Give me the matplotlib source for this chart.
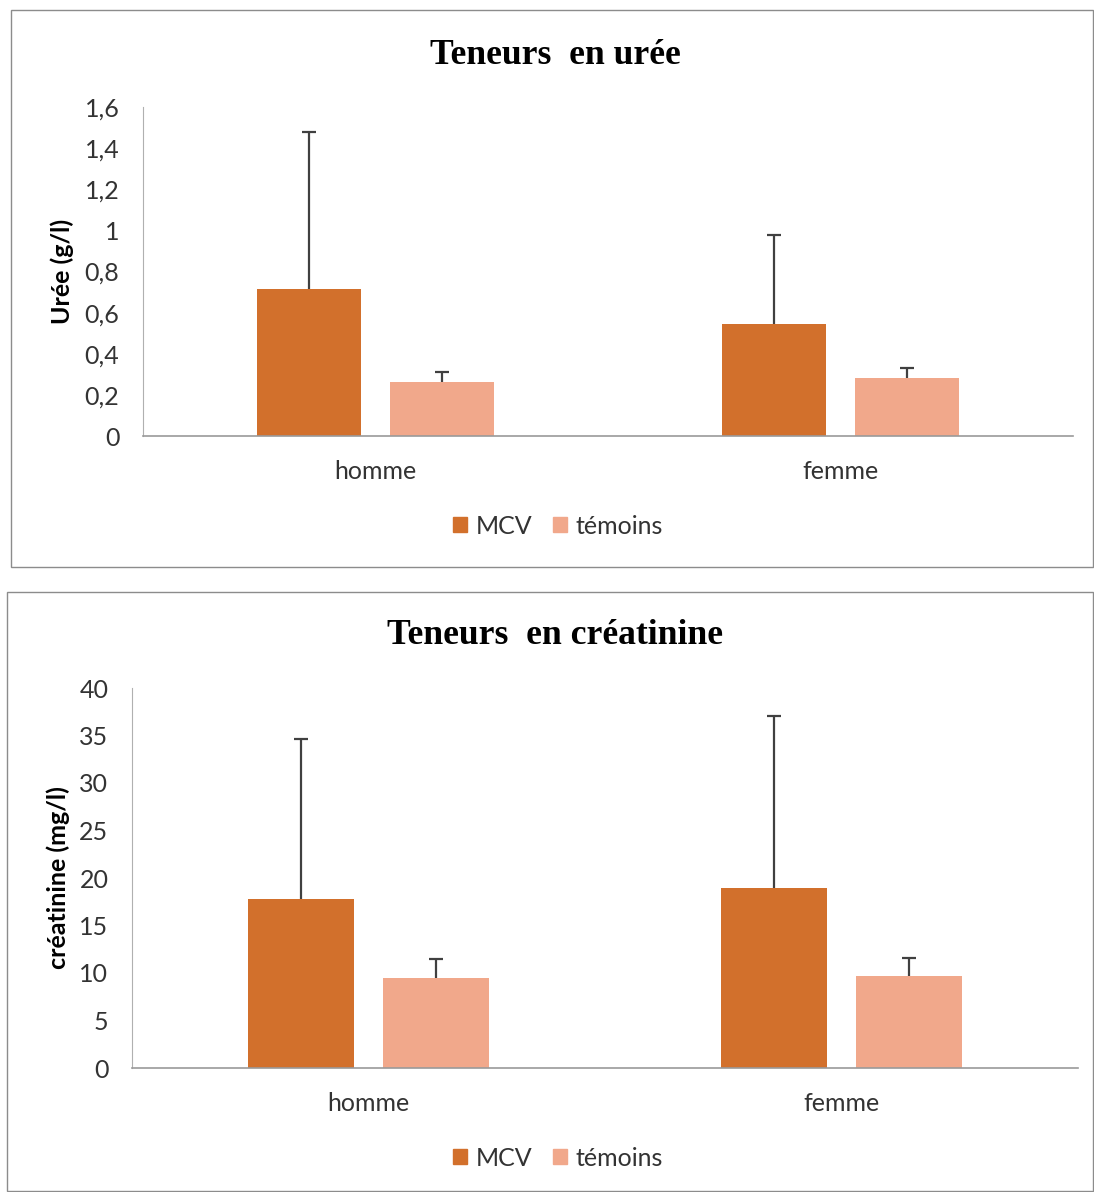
import matplotlib.pyplot as plt
import matplotlib.patches as mpatches
from matplotlib.ticker import FuncFormatter
import numpy as np

categories = ['homme', 'femme']
series_names = ['MCV', 'témoins']

# urée (g/l)
uree_mcv = [0.715, 0.545]
uree_mcv_err = [0.763, 0.433]
uree_tem = [0.263, 0.282]
uree_tem_err = [0.048, 0.049]

# créatinine (mg/l)
crea_mcv = [17.8, 18.95]
crea_mcv_err = [16.8, 18.1]
crea_tem = [9.47, 9.68]
crea_tem_err = [2.0, 1.9]

colour_mcv = '#D2702C'
colour_tem = '#F1A88B'

W, H = 1094, 1192
fig = plt.figure(figsize=(W / 100, H / 100), dpi=100)
plt.rcParams['font.family'] = ['Lato', 'DejaVu Sans']


def px_box(x0, y0, x1, y1):
    # pixel box (top-left origin) -> figure fraction rect
    return [x0 / W, 1 - y1 / H, (x1 - x0) / W, (y1 - y0) / H]


def comma(v, pos):
    s = f'{v:g}'
    return s.replace('.', ',')


def upper_errbar(ax, xpos, vals, errs, w, colour, label):
    bc = ax.bar(xpos, vals, w, color=colour, label=label,
                yerr=[np.zeros(len(vals)), errs],
                error_kw=dict(ecolor='#404040', elinewidth=1.6, capsize=5, capthick=1.6))
    # hide the cap sitting on top of the bar (lower end of the error bar)
    for cap in bc.errorbar.lines[1]:
        if np.allclose(cap.get_ydata(), vals):
            cap.set_visible(False)
    return bc


def draw_panel(border, axbox, title, title_y, ylabel, ylabel_x, mcv, mcv_err, tem, tem_err,
               ylim, ystep, legend_y):
    bx = px_box(*border)
    fig.patches.append(mpatches.Rectangle((bx[0], bx[1]), bx[2], bx[3], transform=fig.transFigure,
                                          fill=False, edgecolor='#8c8c8c', lw=1.0))
    ax = fig.add_axes(px_box(*axbox))
    x = np.arange(len(categories))
    w = 0.224
    off = 0.143
    upper_errbar(ax, x - off, mcv, mcv_err, w, colour_mcv, series_names[0])
    upper_errbar(ax, x + off, tem, tem_err, w, colour_tem, series_names[1])
    ax.set_xlim(-0.5, 1.5)
    ax.set_ylim(*ylim)
    ax.set_yticks(np.arange(ylim[0], ylim[1] + ystep / 2, ystep))
    ax.yaxis.set_major_formatter(FuncFormatter(comma))
    ax.set_xticks(x)
    ax.set_xticklabels(categories)
    ax.tick_params(axis='both', length=0, labelsize=18, labelcolor='#333333')
    ax.tick_params(axis='y', pad=17)
    ax.tick_params(axis='x', pad=17)
    for s in ['top', 'right']:
        ax.spines[s].set_visible(False)
    ax.spines['left'].set_color('#b0b0b0')
    ax.spines['bottom'].set_color('#9a9a9a')
    ax.spines['bottom'].set_linewidth(1.2)

    fig.text(555 / W, 1 - title_y / H, title, ha='center', va='center',
             family='Liberation Serif', fontweight='bold', fontsize=25.7)
    fig.text(ylabel_x / W, 1 - (axbox[1] + axbox[3]) / 2 / H, ylabel, rotation=90,
             ha='center', va='center', fontsize=18, fontweight='bold', color='#000000')

    handles = [mpatches.Patch(color=colour_mcv), mpatches.Patch(color=colour_tem)]
    fig.legend(handles, series_names, loc='center', bbox_to_anchor=(558 / W, 1 - legend_y / H),
               ncol=2, frameon=False, fontsize=18, handlelength=0.55, handleheight=0.55,
               handletextpad=0.35, columnspacing=0.85, labelcolor='#333333')
    return ax


draw_panel((11, 10, 1093, 567), (143, 107, 1073, 436), 'Teneurs  en urée', 55,
           'Urée (g/l)', 62, uree_mcv, uree_mcv_err, uree_tem, uree_tem_err,
           (0, 1.6), 0.2, 526)
draw_panel((7, 592, 1093, 1191), (132, 688, 1078, 1068), 'Teneurs  en créatinine', 636,
           'créatinine (mg/l)', 58, crea_mcv, crea_mcv_err, crea_tem, crea_tem_err,
           (0, 40), 5, 1158)

fig.savefig('out.png', dpi=100)
